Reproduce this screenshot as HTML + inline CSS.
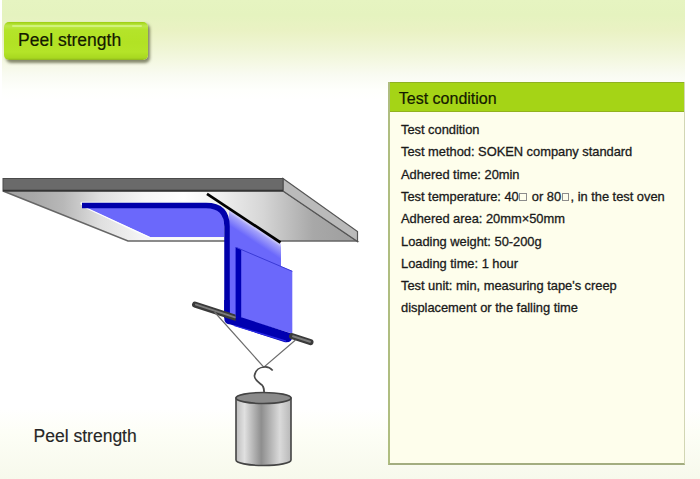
<!DOCTYPE html>
<html><head><meta charset="utf-8">
<style>
html,body{margin:0;padding:0;}
body{width:700px;height:479px;position:relative;overflow:hidden;background:#fff;font-family:"Liberation Sans",sans-serif;}
.topgrad{position:absolute;left:2px;top:0;width:683px;height:100px;background:linear-gradient(to bottom,#e6f4c1 0px,#e5f3bf 15px,#eaf2c4 31px,#eff5d4 48px,#f4f8e2 61px,#f9fbf2 75px,#fefffc 90px,#ffffff 100px);}
.botgrad{position:absolute;left:0;top:408px;width:700px;height:71px;background:linear-gradient(to bottom,#ffffff 0px,#fdfef6 25px,#f7f9ec 71px);}
.btn{position:absolute;left:4px;top:22px;width:144px;height:38px;border-radius:5px;background:linear-gradient(to bottom,#9ccc10 0px,#b0e030 2px,#bde84a 4px,#b4e42a 8px,#b2e224 20px,#b4e428 30px,#a8d820 36px,#8eb420 38px);box-shadow:2px 2.5px 3px rgba(60,64,30,0.6);}
.btn .hl{position:absolute;left:8px;right:6px;top:2.5px;height:2px;background:rgba(225,250,160,0.6);border-radius:1px;}
.btn .t{position:absolute;left:14px;top:8px;font-size:17.5px;color:#141a00;white-space:nowrap;-webkit-text-stroke:0.2px #141a00;}
.panel{position:absolute;left:388px;top:82px;width:294px;height:380.6px;background:#fefeec;border-left:2px solid #afbd80;border-bottom:2px solid #a3ad80;border-right:1px solid #d2d6b4;}
.ph{position:absolute;left:0;top:-0.5px;right:0;height:28.5px;background:#a5d416;border-top:1px solid #8fb222;border-bottom:1.5px solid #92b21e;}
.ph .t{position:absolute;left:8.8px;top:7.5px;font-size:16px;color:#141a00;white-space:nowrap;-webkit-text-stroke:0.2px #141a00;}
.body{position:absolute;left:11px;top:37.1px;font-size:12.9px;letter-spacing:-0.025px;color:#1a1a1a;line-height:22.3px;white-space:nowrap;-webkit-text-stroke:0.3px #1a1a1a;}
.box{display:inline-block;width:7.5px;height:8px;border:1px solid #8c8c8c;box-sizing:border-box;vertical-align:0px;margin:0 1.5px 0 0.5px;-webkit-text-stroke:0;}
.cap{position:absolute;left:33.6px;top:425.7px;font-size:17.5px;color:#262626;white-space:nowrap;-webkit-text-stroke:0.15px #262626;}
svg{position:absolute;left:0;top:0;}
</style></head><body>
<div class="topgrad"></div>
<div class="botgrad"></div>
<div class="btn"><div class="hl"></div><div class="t">Peel strength</div></div>

<svg width="700" height="479" viewBox="0 0 700 479">
<defs>
<linearGradient id="face" x1="3" y1="0" x2="357" y2="0" gradientUnits="userSpaceOnUse"><stop offset="0" stop-color="#a2a2a2"/><stop offset="0.085" stop-color="#a8a8a8"/><stop offset="0.17" stop-color="#b8b8b8"/><stop offset="0.277" stop-color="#e0e0e0"/><stop offset="0.4" stop-color="#f6f6f6"/><stop offset="0.51" stop-color="#fefefe"/><stop offset="0.6" stop-color="#f2f2f2"/><stop offset="0.734" stop-color="#d6d6d6"/><stop offset="0.876" stop-color="#a8a8a8"/><stop offset="1" stop-color="#9e9e9e"/></linearGradient>
<linearGradient id="cyl" x1="235" y1="0" x2="291" y2="0" gradientUnits="userSpaceOnUse">
<stop offset="0" stop-color="#bababa"/><stop offset="0.17" stop-color="#e0e0e0"/><stop offset="0.47" stop-color="#8e8e8e"/><stop offset="0.8" stop-color="#dadada"/><stop offset="1" stop-color="#b8b8b8"/>
</linearGradient>
<linearGradient id="rear" x1="245" y1="219" x2="237.3" y2="230.7" gradientUnits="userSpaceOnUse">
<stop offset="0" stop-color="#ecE8fa"/><stop offset="0.3" stop-color="#a4a2fa"/><stop offset="1" stop-color="#6b68fb"/>
</linearGradient>
<clipPath id="clipL"><rect x="0" y="280" width="235.6" height="60"/></clipPath>
</defs>
<!-- plate bottom face -->
<polygon points="3,191 283,191 357,241 128,241" fill="url(#face)" stroke="#666" stroke-width="1.5"/>
<!-- plate right side -->
<polygon points="283,178.5 357.5,231.5 357.5,241.5 283,191" fill="#bababa" stroke="#555" stroke-width="1.2"/>
<!-- plate top strip -->
<rect x="3" y="178.5" width="280" height="12.5" fill="#6a6a6a" stroke="#4a4a4a" stroke-width="1"/>
<line x1="3" y1="190.5" x2="283" y2="190.5" stroke="#333" stroke-width="1.5"/>
<!-- tape horizontal light fill -->
<path d="M82,203.5 L207,203.5 Q226,203.5 226,223 L226,238 L150,238 Z" fill="none" stroke="#f2f6f6" stroke-width="3.5" stroke-linejoin="round"/>
<path d="M82,206 L207,206 Q224,206 224,223 L224,237 L150,237 Z" fill="#6b68fb"/>
<line x1="82" y1="206" x2="150" y2="237.5" stroke="#fff" stroke-width="1.2"/>
<line x1="150" y1="238.5" x2="224" y2="238.5" stroke="#fafafa" stroke-width="2"/>
<!-- rear panel gradient -->
<polygon points="229,209 281,243 281,268 236,248 236,320 229,320" fill="url(#rear)"/>
<!-- tape dark band horizontal + curve + vertical strip -->
<path d="M82,205.5 L206,205.5 Q227,205.5 227,226.5 L227,318" fill="none" stroke="#0000aa" stroke-width="5.5"/>
<!-- front panel -->
<polygon points="236,247 292.3,271 292.3,333.5 236,317" fill="#6b68fb"/>
<polygon points="235.6,247 241.2,249.5 241.2,325 235.6,323" fill="#0000b4"/>
<line x1="236" y1="247.3" x2="292.3" y2="271.3" stroke="#3a3ad6" stroke-width="1"/>
<!-- bottom band -->
<path d="M224.2,300 V318 Q224.2,324.2 230.5,324.6 L285,342.2 Q292.3,343 292.3,336 V333.8 L241.2,317.3 V318 H229.6 V300 Z" fill="#0000b0"/>
<line x1="234" y1="325.5" x2="286" y2="341.2" stroke="#2a2ae6" stroke-width="1.3"/>
<!-- rod left -->
<g clip-path="url(#clipL)"><line x1="195" y1="304.6" x2="236" y2="318" stroke="#3a3a3a" stroke-width="6" stroke-linecap="round"/>
<line x1="196" y1="304.6" x2="235" y2="317.4" stroke="#7c7c7c" stroke-width="2" stroke-linecap="round"/></g>
<!-- black line -->
<line x1="207" y1="193.8" x2="280.5" y2="242.5" stroke="#000" stroke-width="2.7"/>
<!-- rod right -->
<line x1="292" y1="336.2" x2="310.5" y2="342.2" stroke="#3a3a3a" stroke-width="6" stroke-linecap="round"/>
<line x1="293" y1="336.2" x2="310" y2="341.8" stroke="#7c7c7c" stroke-width="2" stroke-linecap="round"/>
<!-- strings -->
<polyline points="214.5,312 263.8,367.2 295.5,340" fill="none" stroke="#6e6e6e" stroke-width="1.2"/>
<!-- hook -->
<path d="M272.7,370.5 C270,367.5 267,366.8 264.5,367 C260,367.2 255.5,370 254.5,375.5 C253.8,380 259,382.5 262,385 C264,387 264.2,389 264.2,396" fill="none" stroke="#4a4a4a" stroke-width="1.7"/>
<!-- cylinder -->
<path d="M236,398 L236,460 A27.5,5.5 0 0 0 291,460 L291,398 Z" fill="url(#cyl)" stroke="#444" stroke-width="1.6"/>
<ellipse cx="263.5" cy="398" rx="27.5" ry="5.5" fill="#8a8a8a" stroke="#444" stroke-width="1.6"/>
</svg>

<div class="panel">
<div class="ph"><div class="t">Test condition</div></div>
<div class="body">Test condition<br>Test method: SOKEN company standard<br>Adhered time: 20min<br>Test temperature: 40<span class="box"></span> or 80<span class="box"></span>, in the test oven<br>Adhered area: 20mm×50mm<br>Loading weight: 50-200g<br>Loading time: 1 hour<br>Test unit: min, measuring tape's creep<br>displacement or the falling time</div>
</div>
<div class="cap">Peel strength</div>
</body></html>
